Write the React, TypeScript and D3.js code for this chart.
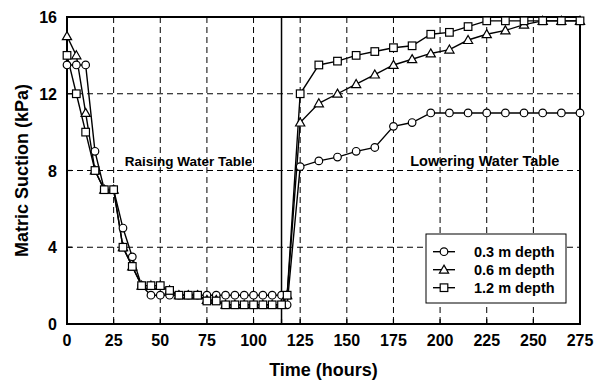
import React, { useEffect, useRef } from "react";
import * as d3 from "d3";

// times (hours) for the raising phase and the lowering phase
const timesRaise = [0, 5, 10, 15, 20, 25, 30, 35, 40, 45, 50, 55, 60, 65, 70, 75, 80, 85, 90, 95, 100, 105, 110, 115, 118];
const timesLower = [125, 135, 145, 155, 165, 175, 185, 195, 205, 215, 225, 235, 245, 255, 265, 275];

const depth03Raise = [13.5, 13.5, 13.5, 9, 7, 7, 5, 3.5, 2, 1.5, 1.5, 1.5, 1.5, 1.5, 1.5, 1.5, 1.5, 1.5, 1.5, 1.5, 1.5, 1.5, 1.5, 1.5, 1.0];
const depth06Raise = [15, 14, 11, 8, 7, 7, 4, 3, 2, 2, 2, 1.75, 1.5, 1.5, 1.5, 1.25, 1.25, 1.0, 1.0, 1.0, 1.0, 1.0, 1.0, 1.0, 1.5];
const depth12Raise = [14, 12, 10, 8, 7, 7, 4, 3, 2, 2, 2, 1.75, 1.5, 1.5, 1.5, 1.2, 1.2, 1.0, 1.0, 1.0, 1.0, 1.0, 1.0, 1.0, 1.5];

const depth03Lower = [8.2, 8.5, 8.7, 9.0, 9.2, 10.3, 10.5, 11, 11, 11, 11, 11, 11, 11, 11, 11];
const depth06Lower = [10.5, 11.5, 12, 12.5, 13, 13.5, 13.8, 14.1, 14.3, 14.8, 15.1, 15.3, 15.6, 15.8, 15.8, 15.8];
const depth12Lower = [12, 13.5, 13.7, 14.0, 14.2, 14.4, 14.5, 15.1, 15.2, 15.5, 15.8, 15.8, 15.8, 15.8, 15.8, 15.8];

const seriesNames = ["0.3 m depth", "0.6 m depth", "1.2 m depth"];
const markerKinds = ["circle", "triangle", "square"];
const xTicks = [0, 25, 50, 75, 100, 125, 150, 175, 200, 225, 250, 275];
const yTicks = [0, 4, 8, 12, 16];
const switchTime = 115;

const FONT = "'Liberation Sans', Arial, Helvetica, sans-serif";

export default function App() {
  const svgRef = useRef<SVGSVGElement | null>(null);

  useEffect(() => {
    if (!svgRef.current) return;
    const root = d3.select(svgRef.current);
    root.selectAll("*").remove();

    const W = 594;
    const H = 386;
    const margin = { top: 17, right: 14, bottom: 62, left: 67 };
    const w = W - margin.left - margin.right;
    const h = H - margin.top - margin.bottom;

    const x = d3.scaleLinear().domain([0, 275]).range([0, w]);
    const y = d3.scaleLinear().domain([0, 16]).range([h, 0]);

    const g = root.append("g").attr("transform", `translate(${margin.left},${margin.top})`);

    // dashed grid
    g.selectAll(".gx")
      .data(xTicks.filter((t) => t > 0 && t < 275))
      .join("line")
      .attr("x1", (d) => x(d))
      .attr("x2", (d) => x(d))
      .attr("y1", 0)
      .attr("y2", h)
      .attr("stroke", "#000")
      .attr("stroke-width", 1)
      .attr("stroke-dasharray", "6,4");
    g.selectAll(".gy")
      .data(yTicks.filter((t) => t > 0 && t < 16))
      .join("line")
      .attr("x1", 0)
      .attr("x2", w)
      .attr("y1", (d) => y(d))
      .attr("y2", (d) => y(d))
      .attr("stroke", "#000")
      .attr("stroke-width", 1)
      .attr("stroke-dasharray", "6,4");

    // switch line
    g.append("line")
      .attr("x1", x(switchTime))
      .attr("x2", x(switchTime))
      .attr("y1", 0)
      .attr("y2", h)
      .attr("stroke", "#000")
      .attr("stroke-width", 1.5);

    // inward ticks
    g.selectAll(".tx")
      .data(xTicks.concat([switchTime]))
      .join("line")
      .attr("x1", (d) => x(d))
      .attr("x2", (d) => x(d))
      .attr("y1", h)
      .attr("y2", h - 5)
      .attr("stroke", "#000")
      .attr("stroke-width", 1.2);
    g.selectAll(".ty")
      .data(yTicks)
      .join("line")
      .attr("x1", 0)
      .attr("x2", 5)
      .attr("y1", (d) => y(d))
      .attr("y2", (d) => y(d))
      .attr("stroke", "#000")
      .attr("stroke-width", 1.2);

    // frame
    g.append("rect")
      .attr("x", 0)
      .attr("y", 0)
      .attr("width", w)
      .attr("height", h)
      .attr("fill", "none")
      .attr("stroke", "#000")
      .attr("stroke-width", 2);

    // tick labels
    g.selectAll(".lx")
      .data(xTicks)
      .join("text")
      .attr("x", (d) => x(d))
      .attr("y", h + 22)
      .attr("text-anchor", "middle")
      .attr("font-family", FONT)
      .attr("font-weight", "bold")
      .attr("font-size", "16px")
      .text((d) => d);
    g.selectAll(".ly")
      .data(yTicks)
      .join("text")
      .attr("x", -10)
      .attr("y", (d) => y(d) + 6)
      .attr("text-anchor", "end")
      .attr("font-family", FONT)
      .attr("font-weight", "bold")
      .attr("font-size", "16px")
      .text((d) => d);

    // axis titles
    g.append("text")
      .attr("x", w / 2)
      .attr("y", h + 52)
      .attr("text-anchor", "middle")
      .attr("font-family", FONT)
      .attr("font-weight", "bold")
      .attr("font-size", "18px")
      .text("Time (hours)");
    g.append("text")
      .attr("transform", `translate(${-39},${h / 2}) rotate(-90)`)
      .attr("text-anchor", "middle")
      .attr("font-family", FONT)
      .attr("font-weight", "bold")
      .attr("font-size", "18px")
      .text("Matric Suction (kPa)");

    // phase labels
    g.append("text")
      .attr("x", x(31))
      .attr("y", y(8) - 5)
      .attr("font-family", FONT)
      .attr("font-weight", "bold")
      .attr("font-size", "13.5px")
      .text("Raising Water Table");
    g.append("text")
      .attr("x", x(184))
      .attr("y", y(8) - 5)
      .attr("font-family", FONT)
      .attr("font-weight", "bold")
      .attr("font-size", "14.5px")
      .text("Lowering Water Table");

    const raise = [depth03Raise, depth06Raise, depth12Raise];
    const lower = [depth03Lower, depth06Lower, depth12Lower];
    const allSeries = raise.map((r, i) =>
      timesRaise.map((t, j) => ({ t, v: r[j] })).concat(timesLower.map((t, j) => ({ t, v: lower[i][j] })))
    );

    const line = d3
      .line<{ t: number; v: number }>()
      .x((d) => x(d.t))
      .y((d) => y(d.v));

    const drawMarker = (sel: any, kind: string, cx: number, cy: number) => {
      if (kind === "circle") {
        sel.append("circle").attr("cx", cx).attr("cy", cy).attr("r", 3.8);
      } else if (kind === "square") {
        sel.append("rect").attr("x", cx - 3.8).attr("y", cy - 3.8).attr("width", 7.6).attr("height", 7.6);
      } else {
        const s = 4.6;
        sel
          .append("path")
          .attr("d", `M${cx},${cy - s}L${cx + s},${cy + s * 0.75}L${cx - s},${cy + s * 0.75}Z`);
      }
    };

    allSeries.forEach((data) => {
      g.append("path")
        .datum(data)
        .attr("fill", "none")
        .attr("stroke", "#000")
        .attr("stroke-width", 1.4)
        .attr("d", line);
    });
    allSeries.forEach((data, i) => {
      const mg = g.append("g").attr("fill", "#fff").attr("stroke", "#000").attr("stroke-width", 1.2);
      data.forEach((d) => drawMarker(mg, markerKinds[i], x(d.t), y(d.v)));
    });

    // legend
    const lg = g.append("g").attr("transform", `translate(${426 - margin.left},${234 - margin.top})`);
    lg.append("rect")
      .attr("width", 140)
      .attr("height", 69)
      .attr("fill", "#fff")
      .attr("stroke", "#000")
      .attr("stroke-width", 1);
    seriesNames.forEach((name, i) => {
      const cy = 17.7 + i * 18;
      lg.append("line")
        .attr("x1", 7)
        .attr("x2", 29)
        .attr("y1", cy)
        .attr("y2", cy)
        .attr("stroke", "#000")
        .attr("stroke-width", 1.4);
      const mg = lg.append("g").attr("fill", "#fff").attr("stroke", "#000").attr("stroke-width", 1.2);
      drawMarker(mg, markerKinds[i], 18, cy);
      lg.append("text")
        .attr("x", 48)
        .attr("y", cy + 5)
        .attr("font-family", FONT)
        .attr("font-weight", "bold")
        .attr("font-size", "14.5px")
        .text(name);
    });
  }, []);

  return (
    <svg
      ref={svgRef}
      width={594}
      height={386}
      style={{ position: "absolute", left: 0, top: 0, display: "block", background: "#fff" }}
    ></svg>
  );
}
